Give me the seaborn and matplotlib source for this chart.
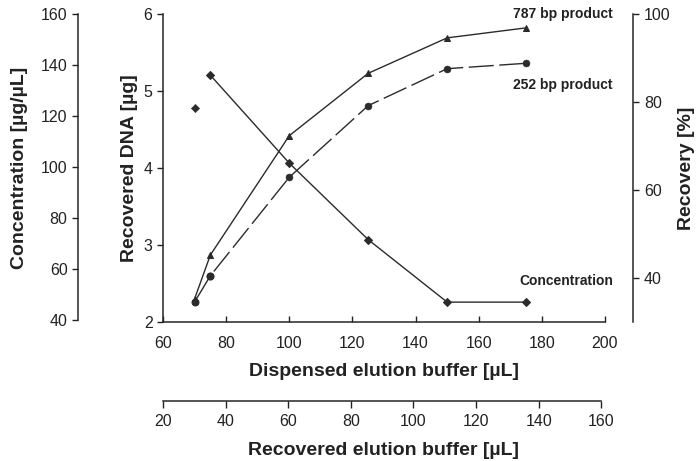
import numpy as np
import pandas as pd
import matplotlib
matplotlib.use("Agg")
import matplotlib.pyplot as plt
import seaborn as sns

# values
dispensed = [70, 75, 100, 125, 150, 175]
dna_787 = [2.30, 2.87, 4.42, 5.23, 5.69, 5.82]
dna_252 = [2.26, 2.60, 3.88, 4.81, 5.29, 5.36]
conc_x = [75, 100, 125, 150, 175]
concentration = [136, 101.5, 71.5, 47, 47]
conc_extra_x = [70]
conc_extra = [123]

dispensed_ticks = [60, 80, 100, 120, 140, 160, 180, 200]
dna_ticks = [2, 3, 4, 5, 6]
conc_ticks = [40, 60, 80, 100, 120, 140, 160]
recovery_ticks = [40, 60, 80, 100]
recovered_ticks = [20, 40, 60, 80, 100, 120, 140, 160]

sns.set_style("white")
plt.rcParams["font.family"] = ["Liberation Sans", "DejaVu Sans"]
plt.rcParams["axes.linewidth"] = 1.1

ink = "#2b2b2b"
txt_c = "#222"
tick_fs = 11.5
label_fs = 14
PX = 0.72  # points per pixel at 100 dpi

W, H = 697, 461
fig = plt.figure(figsize=(W / 100, H / 100), dpi=100)
ax = fig.add_axes([163 / W, (H - 322) / H, (605 - 163) / W, (322 - 14) / H])

df = pd.DataFrame({"x": dispensed, "p787": dna_787, "p252": dna_252})

# 787 bp product: solid line with triangles
sns.lineplot(data=df, x="x", y="p787", ax=ax, color=ink, lw=1.0,
             marker="^", markersize=5, markeredgecolor=ink, estimator=None)
# 252 bp product: short solid start, then long dashes
sns.lineplot(data=df.iloc[:2], x="x", y="p252", ax=ax, color=ink, lw=1.0,
             marker="o", markersize=5, markeredgecolor=ink, estimator=None)
sns.lineplot(data=df.iloc[1:], x="x", y="p252", ax=ax, color=ink, lw=1.0,
             linestyle=(18, (18, 4)), estimator=None)
sns.scatterplot(data=df.iloc[1:], x="x", y="p252", ax=ax, color=ink,
                marker="o", s=25, edgecolor=ink, zorder=3)

ax.set_xlim(60, 200)
ax.set_ylim(2, 6)
ax.set_xticks(dispensed_ticks)
ax.set_yticks(dna_ticks)
ax.spines[["top", "right"]].set_visible(False)
ax.tick_params(axis="x", direction="in", length=4, width=1, pad=10, labelsize=tick_fs, colors=txt_c)
ax.tick_params(axis="y", direction="out", length=4, width=1, pad=3.5, labelsize=tick_fs, colors=txt_c)
ax.set_xlabel("Dispensed elution buffer [µL]", fontsize=label_fs, fontweight="bold", labelpad=9, color=txt_c)
ax.set_ylabel("Recovered DNA [µg]", fontsize=label_fs, fontweight="bold", labelpad=4, color=txt_c)

# concentration axis, outer left
ax_c = ax.twinx()
sns.lineplot(x=conc_x, y=concentration, ax=ax_c, color=ink, lw=1.0,
             marker="D", markersize=4.5, markeredgecolor=ink, estimator=None)
sns.scatterplot(x=conc_extra_x, y=conc_extra, ax=ax_c, color=ink,
                marker="D", s=18, edgecolor=ink)
ax_c.set_ylim(39.2, 159.2)
ax_c.set_yticks(conc_ticks)
ax_c.yaxis.set_ticks_position("left")
ax_c.yaxis.set_label_position("left")
ax_c.spines["left"].set_position(("outward", 85 * PX))
ax_c.spines["left"].set_bounds(40, 160)
ax_c.spines[["top", "right", "bottom"]].set_visible(False)
ax_c.tick_params(axis="y", direction="out", length=4, width=1, pad=3.5, labelsize=tick_fs, colors=txt_c)
ax_c.set_ylabel("Concentration [µg/µL]", fontsize=label_fs, fontweight="bold", labelpad=9, color=txt_c)

# recovery axis, outer right
ax_r = ax.twinx()
ax_r.set_ylim(30, 100)
ax_r.set_yticks(recovery_ticks)
ax_r.spines["right"].set_position(("outward", 28 * PX))
ax_r.spines[["top", "left", "bottom"]].set_visible(False)
ax_r.tick_params(axis="y", direction="out", length=4, width=1, pad=4, labelsize=tick_fs, colors=txt_c)
ax_r.set_ylabel("Recovery [%]", fontsize=label_fs, fontweight="bold", labelpad=5, color=txt_c)

# recovered buffer axis, lower
ax_b = ax.twiny()
ax_b.set_xlim(21.2, 161.2)
ax_b.set_xticks(recovered_ticks)
ax_b.xaxis.set_ticks_position("bottom")
ax_b.xaxis.set_label_position("bottom")
ax_b.spines["bottom"].set_position(("outward", 79 * PX))
ax_b.spines["bottom"].set_bounds(20, 160)
ax_b.spines[["top", "left", "right"]].set_visible(False)
ax_b.tick_params(axis="x", direction="out", length=5, width=1, pad=4.5, labelsize=tick_fs, colors=txt_c)
ax_b.set_xlabel("Recovered elution buffer [µL]", fontsize=label_fs, fontweight="bold", labelpad=9, color=txt_c)

# series labels
for txt, yv in [("787 bp product", 6.0), ("252 bp product", 5.08), ("Concentration", 2.53)]:
    ax.text(202.5, yv, txt, ha="right", va="center", fontsize=10,
            fontweight="bold", color=txt_c, clip_on=False)

fig.savefig("out.png", dpi=100)
